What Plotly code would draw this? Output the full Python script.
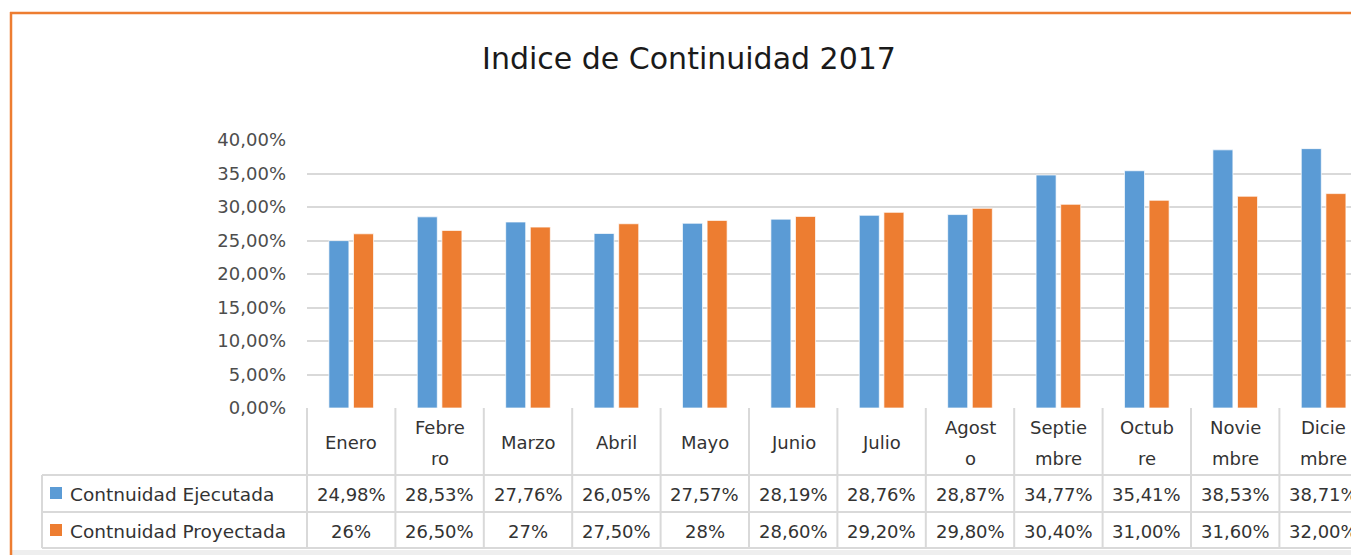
import plotly.graph_objects as go

# ---- data ----
months = ["Enero", "Febre<br>ro", "Marzo", "Abril", "Mayo", "Junio", "Julio",
          "Agost<br>o", "Septie<br>mbre", "Octub<br>re", "Novie<br>mbre", "Dicie<br>mbre"]
ejecutada = [24.98, 28.53, 27.76, 26.05, 27.57, 28.19, 28.76, 28.87, 34.77, 35.41, 38.53, 38.71]
proyectada = [26.0, 26.5, 27.0, 27.5, 28.0, 28.6, 29.2, 29.8, 30.4, 31.0, 31.6, 32.0]
ejecutada_labels = ["24,98%", "28,53%", "27,76%", "26,05%", "27,57%", "28,19%",
                    "28,76%", "28,87%", "34,77%", "35,41%", "38,53%", "38,71%"]
proyectada_labels = ["26%", "26,50%", "27%", "27,50%", "28%", "28,60%",
                     "29,20%", "29,80%", "30,40%", "31,00%", "31,60%", "32,00%"]
series_names = ["Contnuidad Ejecutada", "Contnuidad Proyectada"]
title_text = "Indice de Continuidad 2017"
y_ticks = [0, 5, 10, 15, 20, 25, 30, 35, 40]

BLUE = "#5B9BD5"
ORANGE = "#ED7D31"
GRID = "#d9d9d9"
TXT = "#333333"
FONT = "DejaVu Sans"

# ---- layout geometry (page pixels; the page body adds an 8px margin) ----
OFF = 8
PAGE_W, PAGE_H = 1359, 555
W, H = PAGE_W - OFF, PAGE_H - OFF
PLOT_LEFT, PLOT_TOP, PLOT_BOTTOM = 307, 140, 408   # page pixels
L = PLOT_LEFT - OFF
T = PLOT_TOP - OFF
B = H - (PLOT_BOTTOM - OFF)
R = 0
PW = W - L - R
PH = H - T - B
COL = 88.4
XMAX = -0.5 + PW / COL


def px(xpx):  # page pixel -> paper x
    return (xpx - PLOT_LEFT) / PW


def py(ypx):  # page pixel -> paper y
    return (PLOT_BOTTOM - ypx) / PH


def colx(edge):
    return PLOT_LEFT + COL * edge


x_idx = list(range(len(months)))

fig = go.Figure()
fig.add_trace(go.Bar(x=x_idx, y=ejecutada, name=series_names[0], marker_color=BLUE,
                     marker_line=dict(color="rgba(255,255,255,0.7)", width=1)))
fig.add_trace(go.Bar(x=x_idx, y=proyectada, name=series_names[1], marker_color=ORANGE,
                     marker_line=dict(color="rgba(255,255,255,0.7)", width=1)))

shapes = []
line = dict(color=GRID, width=2)
for ypx in [475, 512, 548]:
    shapes.append(dict(type="line", xref="paper", yref="paper", x0=px(42), x1=px(PAGE_W + 5),
                       y0=py(ypx), y1=py(ypx), line=line))
shapes.append(dict(type="line", xref="paper", yref="paper", x0=px(42), x1=px(42),
                   y0=py(475), y1=py(548), line=line))
for k in range(len(months) + 1):
    xx = colx(k)
    if xx > PAGE_W + 2:
        continue
    shapes.append(dict(type="line", xref="paper", yref="paper", x0=px(xx), x1=px(xx),
                       y0=py(408), y1=py(548), line=line))
shapes.append(dict(type="rect", xref="paper", yref="paper", x0=px(50), x1=px(62),
                   y0=py(487), y1=py(499), fillcolor=BLUE, line=dict(width=0)))
shapes.append(dict(type="rect", xref="paper", yref="paper", x0=px(50), x1=px(62),
                   y0=py(524), y1=py(536), fillcolor=ORANGE, line=dict(width=0)))
shapes.append(dict(type="rect", xref="paper", yref="paper", x0=px(12), x1=px(PAGE_W + 5),
                   y0=py(550), y1=py(PAGE_H + 5), fillcolor="#eeeeee", line=dict(width=0)))
shapes.append(dict(type="line", xref="paper", yref="paper", x0=px(10), x1=px(PAGE_W + 5),
                   y0=py(13), y1=py(13), line=dict(color=ORANGE, width=2.5)))
shapes.append(dict(type="line", xref="paper", yref="paper", x0=px(11), x1=px(11),
                   y0=py(12), y1=py(PAGE_H + 5), line=dict(color=ORANGE, width=2.5)))

annotations = []
tf = dict(family=FONT, size=18, color=TXT)
for i, m in enumerate(months):
    parts = m.split("<br>")
    ys = [442] if len(parts) == 1 else [427, 458]
    for part, ypx in zip(parts, ys):
        annotations.append(dict(x=i, xref="x", y=py(ypx), yref="paper", text=part,
                                showarrow=False, font=tf, xanchor="center", yanchor="middle"))
    annotations.append(dict(x=i, xref="x", y=py(494), yref="paper", text=ejecutada_labels[i],
                            showarrow=False, font=tf, xanchor="center", yanchor="middle"))
    annotations.append(dict(x=i, xref="x", y=py(531), yref="paper", text=proyectada_labels[i],
                            showarrow=False, font=tf, xanchor="center", yanchor="middle"))
for name, ypx in zip(series_names, [494, 531]):
    annotations.append(dict(x=px(68), xref="paper", y=py(ypx), yref="paper", text=name,
                            showarrow=False, font=dict(family=FONT, size=18.5, color=TXT),
                            xanchor="left", yanchor="middle"))

tick_text = [f"{v:.2f}".replace(".", ",") + "%" for v in y_ticks]

fig.update_layout(
    width=W, height=H,
    margin=dict(l=L, r=R, t=T, b=B, pad=0),
    paper_bgcolor="white", plot_bgcolor="white",
    showlegend=False,
    barmode="group", bargap=0.443, bargroupgap=0.187,
    title=dict(text=title_text, x=(689 - OFF) / W, xref="container", xanchor="center",
               y=1 - (58 - OFF) / H, yref="container", yanchor="middle",
               font=dict(family=FONT, size=30, color="#1a1a1a")),
    xaxis=dict(range=[-0.5, XMAX], showticklabels=False, showgrid=False,
               zeroline=False, showline=False, fixedrange=True),
    yaxis=dict(range=[0, 40], tickvals=y_ticks, ticktext=tick_text,
               showgrid=True, gridcolor=GRID, gridwidth=2, zeroline=False,
               showline=False, ticks="", ticklabelstandoff=20,
               tickfont=dict(family=FONT, size=18, color="#4d4d4d")),
    shapes=shapes,
    annotations=annotations,
)

fig.write_html("out.html")
